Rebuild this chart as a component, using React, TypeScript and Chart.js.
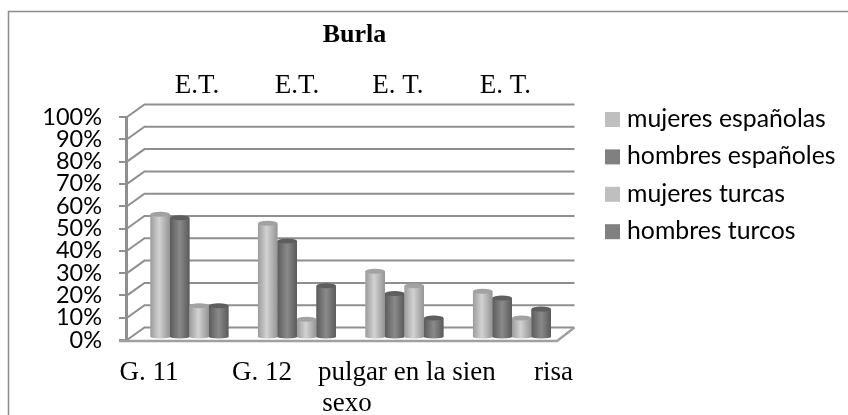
import React, { useEffect, useRef } from "react";
import { Chart, registerables } from "chart.js";

Chart.register(...registerables);

const categories = ["G. 11", "G. 12", "pulgar en la sien", "risa"];
const topLabels = ["E.T.", "E.T.", "E. T.", "E. T."];
const secondLine = "sexo";
const mujeresEspanolas = [55, 51, 29.5, 20.5];
const hombresEspanoles = [53.5, 43, 19.5, 17.5];
const mujeresTurcas = [14, 8, 23, 8.5];
const hombresTurcos = [14, 23, 8.5, 12.5];
const seriesNames = ["mujeres españolas", "hombres españoles", "mujeres turcas", "hombres turcos"];
const titleText = "Burla";

const LIGHT = "#bfbfbf";
const DARK = "#808080";
const GRID = "#8f8f8f";
const SERIF = '"Liberation Serif", serif';
const SANS = "Lato, sans-serif";
const bottomOffsets = [-40.5, -35, 2.5, 41.5];
const topOffsets = [7.5, 0, -6.5, -6.5];

const decor = {
  id: "decor",
  afterLayout(chart: any) {
    const y = chart.scales.y;
    y.left -= 8.7;
    y.right -= 8.7;
  },
  beforeDatasetsDraw(chart: any) {
    const { ctx, scales } = chart;
    const y = scales.y;
    const x0 = y.right;
    const floorRight = chart.chartArea.right - 8.7;
    const dx = 17.5;
    const dy = 12.5;
    ctx.save();
    // frame
    ctx.strokeStyle = "#8c8c8c";
    ctx.lineWidth = 1.5;
    ctx.beginPath();
    ctx.moveTo(8.5, 415);
    ctx.lineTo(8.5, 11.5);
    ctx.lineTo(848, 11.5);
    ctx.stroke();
    // back wall
    ctx.strokeStyle = GRID;
    ctx.lineWidth = 2;
    y.ticks.forEach((t: any) => {
      const py = y.getPixelForValue(t.value);
      ctx.beginPath();
      ctx.moveTo(x0, py);
      ctx.lineTo(x0 + dx, py - dy);
      ctx.lineTo(floorRight + dx, py - dy);
      ctx.stroke();
    });
    // floor
    const py0 = y.getPixelForValue(0);
    ctx.strokeStyle = "#a0a0a0";
    ctx.lineWidth = 2.5;
    ctx.beginPath();
    ctx.moveTo(x0 - 8, py0 + 1);
    ctx.lineTo(floorRight, py0 + 1);
    ctx.lineTo(floorRight + dx, py0 - dy);
    ctx.stroke();
    ctx.restore();
  },
  afterDatasetsDraw(chart: any) {
    const { ctx } = chart;
    ctx.save();
    // cylinders over the library's bars
    chart.data.datasets.forEach((_ds: any, di: number) => {
      const light = di % 2 === 0;
      chart.getDatasetMeta(di).data.forEach((bar: any) => {
        const p = bar.getProps(["x", "y", "base", "width"], true);
        const l = p.x - p.width / 2;
        const r = p.x + p.width / 2;
        const g = ctx.createLinearGradient(l, 0, r, 0);
        if (light) {
          g.addColorStop(0, "#9c9c9c");
          g.addColorStop(0.45, "#d2d2d2");
          g.addColorStop(1, "#949494");
        } else {
          g.addColorStop(0, "#5c5c5c");
          g.addColorStop(0.5, "#8a8a8a");
          g.addColorStop(1, "#5a5a5a");
        }
        ctx.fillStyle = g;
        ctx.beginPath();
        ctx.moveTo(l, p.y);
        ctx.lineTo(l, p.base);
        ctx.ellipse(p.x, p.base, p.width / 2, 1.5, 0, Math.PI, 0, true);
        ctx.lineTo(r, p.y);
        ctx.closePath();
        ctx.fill();
        ctx.fillStyle = light ? "#a2a2a2" : "#5e5e5e";
        ctx.beginPath();
        ctx.ellipse(p.x, p.y, p.width / 2, 2.5, 0, 0, Math.PI * 2);
        ctx.fill();
      });
    });
    // texts
    ctx.fillStyle = "#000";
    ctx.textBaseline = "alphabetic";
    ctx.textAlign = "center";
    ctx.font = `bold 26px ${SERIF}`;
    ctx.fillText(titleText, 354.5, 41.5);
    ctx.font = `27px ${SERIF}`;
    const xs = chart.scales.x;
    topLabels.forEach((t, i) => ctx.fillText(t, xs.getPixelForValue(i) + topOffsets[i], 93));
    categories.forEach((t, i) => ctx.fillText(t, xs.getPixelForValue(i) + bottomOffsets[i], 380));
    ctx.fillText(secondLine, 347, 410.5);
    // legend
    ctx.textAlign = "left";
    ctx.font = `24.8px ${SANS}`;
    chart.data.datasets.forEach((ds: any, i: number) => {
      const yb = 127 + i * 37.4;
      ctx.fillStyle = ds.backgroundColor;
      ctx.fillRect(605, yb - 15, 15, 15);
      ctx.fillStyle = "#000";
      ctx.fillText(ds.label, 627, yb);
    });
    ctx.restore();
  },
};

export default function App() {
  const ref = useRef<HTMLCanvasElement>(null);
  useEffect(() => {
    const chart = new Chart(ref.current as HTMLCanvasElement, {
      type: "bar",
      data: {
        labels: categories,
        datasets: [mujeresEspanolas, hombresEspanoles, mujeresTurcas, hombresTurcos].map((d, i) => ({
          label: seriesNames[i],
          data: d,
          backgroundColor: i % 2 === 0 ? LIGHT : DARK,
          yAxisID: "y2",
          barPercentage: 1,
          categoryPercentage: 0.7256,
        })),
      },
      options: {
        responsive: false,
        animation: false,
        layout: { padding: { left: 0, top: 117, right: 282.3, bottom: 75 } },
        plugins: { legend: { display: false }, title: { display: false }, tooltip: { enabled: false } },
        scales: {
          x: { display: false },
          y: {
            position: "left",
            min: 0,
            max: 100,
            afterFit(s: any) {
              s.width = 135.7;
            },
            border: { color: GRID, width: 3 },
            grid: { drawOnChartArea: false, color: GRID, lineWidth: 2, tickLength: 8 },
            ticks: {
              stepSize: 10,
              autoSkip: false,
              padding: 17,
              color: "#000",
              font: { family: "Lato", size: 23.5 },
              callback: (v: any) => `${v}%`,
            },
          },
          y2: { display: false, min: -1.35, max: 98.65 },
        },
      },
      plugins: [decor],
    } as any);
    return () => chart.destroy();
  }, []);
  return (
    <div style={{ position: "absolute", left: 0, top: 0, width: 848, height: 415, background: "#fff" }}>
      <canvas ref={ref} width={848} height={415} style={{ display: "block" }} />
    </div>
  );
}
